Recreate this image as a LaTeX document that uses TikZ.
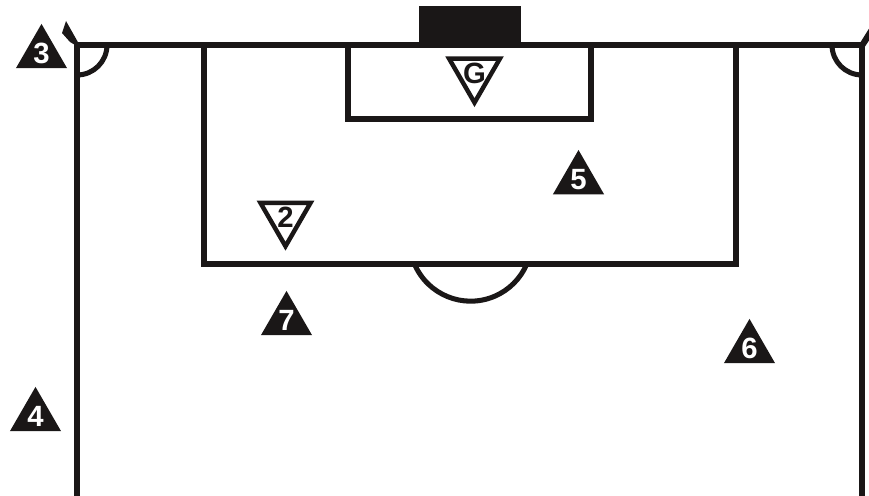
\documentclass[tikz,border=0pt]{standalone}
\usepackage{fontspec}
\setmainfont{Liberation Sans}
\usetikzlibrary{shapes.geometric}
\definecolor{pitchink}{HTML}{1A1717}
\newcommand{\shirt}[1]{\makebox[0pt]{#1}}
\tikzset{
    pitchline/.style={draw=pitchink, line width=4.3pt, line join=miter},
    attacker/.style={regular polygon, regular polygon sides=3, fill=pitchink, text=white, minimum size=1.77cm, inner sep=0pt, font=\fontsize{25}{30}\selectfont\bfseries},
    defender/.style={regular polygon, regular polygon sides=3, shape border rotate=180, draw=pitchink, fill=white, line width=3.8pt, text=pitchink, minimum size=1.62cm, inner sep=0pt, font=\fontsize{25}{30}\selectfont\bfseries}
}
\begin{document}
\begin{tikzpicture}[x=0.03cm, y=0.03cm]
    \useasboundingbox (0,0) rectangle (869,495);

    % Goal
    \fill[pitchink] (419,450) rectangle (521,489);

    % Touchlines and goal line
    \draw[pitchline] (77,-5) -- (77,450) -- (862,450) -- (862,-5);

    % Penalty area
    \draw[pitchline] (204,450) -- (204,231) -- (736,231) -- (736,450);
    \draw[pitchline] (414.5,231) arc[start angle=203, end angle=337, radius=61];

    % Goal area
    \draw[pitchline] (348,450) -- (348,376) -- (591,376) -- (591,450);

    % Corner arcs
    \draw[pitchline] (107,450) arc[start angle=0, end angle=-90, radius=30];
    \draw[pitchline] (832,450) arc[start angle=180, end angle=270, radius=30];

    % Corner flags
    \fill[pitchink] (79,451) -- (66,474) -- (62,462) -- (70,453) -- (75,450) -- cycle;
    \fill[pitchink] (860,452) -- (870,468) -- (870,456) -- (864,447) -- cycle;

    % Attackers
    \node[attacker] (p3) at (41.5,441.6) {\shirt{3}};
    \node[attacker] (p4) at (35.5,78.6) {\shirt{4}};
    \node[attacker] (p5) at (578.5,315.5) {\shirt{5}};
    \node[attacker] (p6) at (749.5,146.6) {\shirt{6}};
    \node[attacker] (p7) at (286.5,174.6) {\shirt{7}};

    % Defenders
    \node[defender] (keeper) at (474.5,421.7) {\shirt{G}};
    \node[defender] (p2) at (285.5,277.7) {\shirt{2}};
\end{tikzpicture}
\end{document}
